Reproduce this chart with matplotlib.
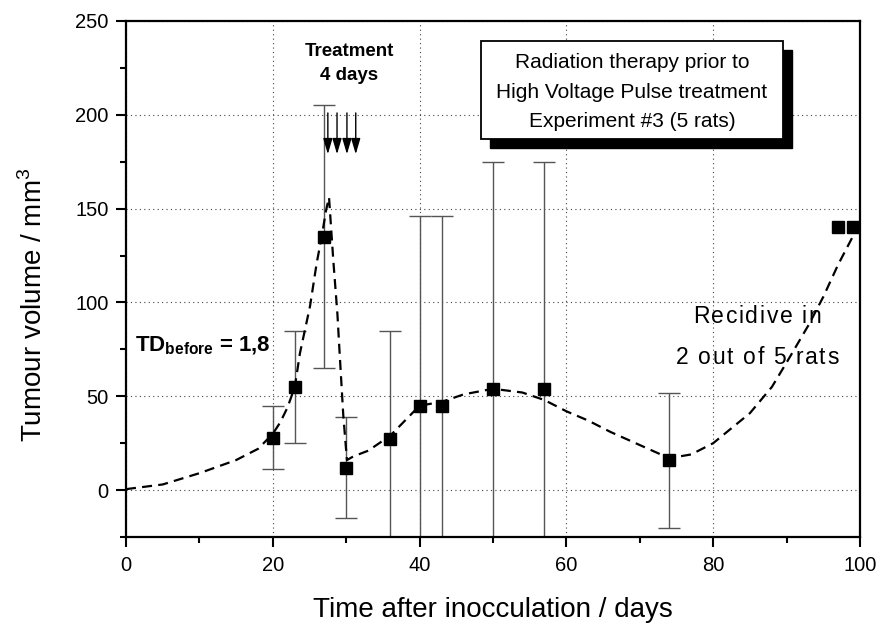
import numpy as np
import matplotlib
matplotlib.use("Agg")
import matplotlib.pyplot as plt
from matplotlib.patches import Rectangle
from matplotlib.font_manager import FontProperties, findfont, get_font

plt.rcParams['font.family'] = ['Liberation Sans', 'DejaVu Sans']
plt.rcParams['mathtext.fontset'] = 'custom'
plt.rcParams['mathtext.rm'] = 'Liberation Sans'
plt.rcParams['mathtext.bf'] = 'Liberation Sans:bold'

# measured data
days = [20, 23, 27, 30, 36, 40, 43, 50, 57, 74, 97, 99]
volume = [28, 55, 135, 12, 27, 45, 45, 54, 54, 16, 140, 140]
err = [17, 30, 70, 27, 58, 101, 101, 121, 121, 36, 0, 0]

# fitted dashed curve
fit_x = [0, 5, 10, 15, 18, 20, 21, 22, 23, 23.7, 25.07, 25.98, 26.66, 27.25, 27.66,
         28.25, 28.8, 29.06, 29.6, 30.1, 31, 33, 36, 38, 40, 43, 46, 50, 54, 57, 60,
         63, 66, 70, 74, 77, 80, 85, 88, 90, 93, 95, 97, 99]
fit_y = [0.5, 3, 9, 16, 22, 30, 36, 44, 55, 73, 98, 121, 135, 149, 156,
         122, 94, 76, 40, 16, 18, 21, 29, 37, 45, 47, 51, 54, 52, 48, 42,
         37, 31, 24, 17, 19, 25, 41, 55, 68, 88, 103, 120, 135]

arrow_x = [27.5, 28.75, 30.1, 31.3]
arrow_top, arrow_tip = 201, 179

xticks = [0, 20, 40, 60, 80, 100]
yticks = [0, 50, 100, 150, 200, 250]

W, H = 879, 623
fig = plt.figure(figsize=(W/100, H/100), dpi=100)
ax = fig.add_axes([126/W, 86/H, 734/W, 516/H])

ax.plot(fit_x, fit_y, color='black', lw=1.6, linestyle=(0, (4.5, 2.8)), zorder=3)

d = np.array(days, float); v = np.array(volume, float); e = np.array(err, float)
m = e > 0
ax.errorbar(d[m], v[m], yerr=e[m], fmt='none', ecolor='#555555', elinewidth=1.0,
            capsize=8, capthick=1.0, zorder=2)
ax.plot(d, v, 's', color='black', markersize=8.5, zorder=4, clip_on=False)

for xa in arrow_x:
    ax.annotate('', xy=(xa, arrow_tip), xytext=(xa, arrow_top),
                arrowprops=dict(arrowstyle='-|>,head_length=0.95,head_width=0.28',
                                color='black', lw=1.0, shrinkA=0, shrinkB=0), zorder=5)

ax.set_xlim(0, 100)
ax.set_ylim(-25, 250)
ax.set_xticks(xticks)
ax.set_yticks(yticks)
ax.set_xticks(np.arange(10, 100, 20), minor=True)
ax.set_yticks(np.arange(-25, 250, 50), minor=True)
ax.tick_params(which='major', direction='out', length=7.5, width=1.5, labelsize=14.5)
ax.tick_params(axis='y', which='major', pad=5)
ax.tick_params(axis='x', which='major', pad=6)
ax.tick_params(which='minor', direction='out', length=4.5, width=1.5)
ax.grid(True, which='major', linestyle=(0, (1, 3)), color='#444444', lw=0.8)
for s in ax.spines.values():
    s.set_linewidth(1.6)

ax.set_xlabel('Time after inocculation / days', fontsize=20)
ax.set_ylabel('Tumour volume / mm$^3$', fontsize=20)
ax.xaxis.set_label_coords(0.5, -0.116)
ax.yaxis.set_label_coords(-0.106, 0.45)

ax.text(30.4, 227.4, 'Treatment\n4 days', ha='center', va='center', fontsize=13.5,
        fontweight='bold', linespacing=1.6)
ax.text(1.2, 74, r'TD$_{\mathbf{before}}$ = 1,8', ha='left', va='baseline',
        fontsize=16, fontweight='bold')

# letter-spaced annotation
def tracked_text(xd, yd, s, size, track_px):
    prop = FontProperties(family='Liberation Sans', size=size)
    font = get_font(findfont(prop))
    font.set_size(size, 100)
    adv = []
    for c in s:
        g = font.load_char(ord(c))
        adv.append(g.linearHoriAdvance / 65536.0)
    total = sum(adv) + track_px * (len(s) - 1)
    cx, cy = ax.transData.transform((xd, yd))
    px = cx - total / 2
    inv = ax.transData.inverted()
    for c, a in zip(s, adv):
        if c != ' ':
            tx, ty = inv.transform((px, cy))
            ax.text(tx, ty, c, fontsize=size, ha='left', va='baseline')
        px += a + track_px

tracked_text(86.0, 89.2, 'Recidive in', 16.5, 1.6)
tracked_text(86.0, 67.2, '2 out of 5 rats', 16.5, 1.6)

# text box with shadow
def fr(x0, y0, x1, y1):
    return (x0/W, 1 - y1/H), (x1 - x0)/W, (y1 - y0)/H
xy, w, h = fr(490, 50, 792, 148)
fig.patches.append(Rectangle(xy, w, h, transform=fig.transFigure, facecolor='black',
                             edgecolor='black', zorder=10))
xy, w, h = fr(481, 41, 783, 139)
fig.patches.append(Rectangle(xy, w, h, transform=fig.transFigure, facecolor='white',
                             edgecolor='black', lw=1.3, zorder=11))
fig.text(632/W, 1 - 92/H,
         'Radiation therapy prior to\nHigh Voltage Pulse treatment\nExperiment #3 (5 rats)',
         ha='center', va='center', fontsize=15, linespacing=1.72, zorder=12)

fig.savefig('out.png', dpi=100)
